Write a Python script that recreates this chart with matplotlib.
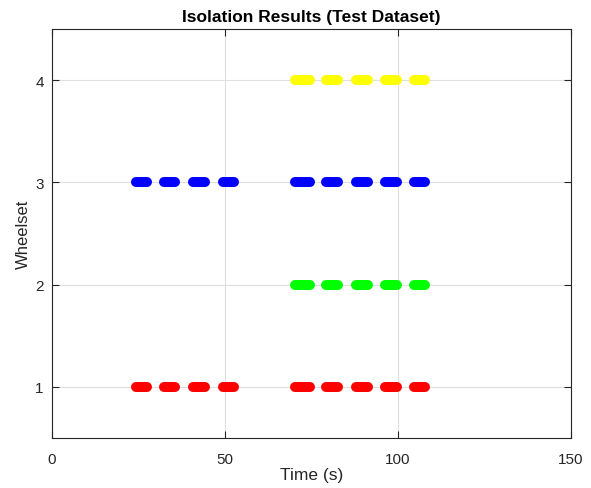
import matplotlib.pyplot as plt

plt.rcParams['font.family'] = ['Liberation Sans', 'DejaVu Sans']

# isolation windows (start, end) in seconds, per wheelset
left_windows = [(24.3, 27.5), (32.4, 35.5), (40.8, 44.2), (49.4, 52.6)]
right_windows = [(70.2, 74.6), (79.2, 82.7), (87.9, 91.3), (96.2, 99.7), (104.6, 107.8)]

wheelsets = [1, 2, 3, 4]
colors = ['#ff0000', '#00ff00', '#0000ff', '#ffff00']
windows = [left_windows + right_windows,
           right_windows,
           left_windows + right_windows,
           right_windows]

xticks = [0, 50, 100, 150]
yticks = [1, 2, 3, 4]

fig = plt.figure(figsize=(5.91, 4.89), dpi=100)
ax = fig.add_axes([52 / 591, 50 / 489, 519 / 591, 409 / 489])

for w, c, segs in zip(wheelsets, colors, windows):
    for t0, t1 in segs:
        ax.plot([t0, t1], [w, w], color=c, lw=7.2, solid_capstyle='round', zorder=3)

ax.set_xlim(0, 150)
ax.set_ylim(0.5, 4.5)
ax.set_xticks(xticks)
ax.set_yticks(yticks)
ax.grid(True, color='#dfdfdf', lw=0.8)
ax.set_axisbelow(True)
ax.tick_params(direction='in', top=True, right=True, length=5, width=0.8,
               labelsize=11, colors='#262626')
ax.tick_params(axis='x', pad=10)
ax.tick_params(axis='y', pad=6)
for s in ax.spines.values():
    s.set_color('#262626')
    s.set_linewidth(0.8)

ax.set_xlabel('Time (s)', fontsize=12.5, color='#262626', labelpad=1)
ax.set_ylabel('Wheelset', fontsize=12, color='#262626', labelpad=3)
ax.set_title('Isolation Results (Test Dataset)', fontsize=12.5, fontweight='bold', pad=6)

fig.savefig('out.png', dpi=100)
